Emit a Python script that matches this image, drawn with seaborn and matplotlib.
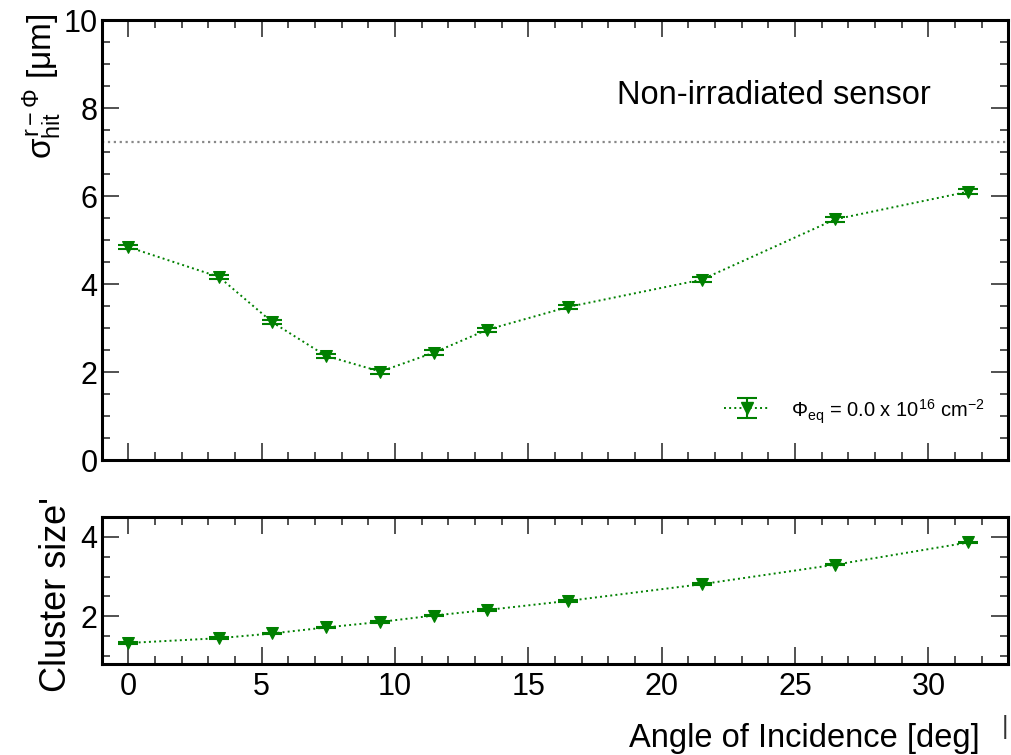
import numpy as np
import pandas as pd
import matplotlib
matplotlib.use("Agg")
import matplotlib.pyplot as plt
import seaborn as sns
from matplotlib.ticker import MultipleLocator
from matplotlib.lines import Line2D
from matplotlib.legend_handler import HandlerTuple

# ---- data ----
angle = [0.0, 3.4, 5.4, 7.4, 9.45, 11.45, 13.45, 16.5, 21.5, 26.5, 31.5]
resolution = [4.84, 4.16, 3.13, 2.37, 2.01, 2.44, 2.96, 3.48, 4.10, 5.47, 6.10]
resolution_err = [0.05, 0.05, 0.05, 0.05, 0.05, 0.05, 0.05, 0.05, 0.05, 0.05, 0.05]
cluster = [1.33, 1.45, 1.57, 1.72, 1.86, 2.02, 2.16, 2.39, 2.81, 3.30, 3.86]
cluster_err = [0.02, 0.02, 0.02, 0.02, 0.02, 0.02, 0.02, 0.02, 0.02, 0.02, 0.02]
reference_level = 7.23
legend_label = r'$\Phi_{\mathrm{eq}}$ = 0.0 x 10$^{16}$ cm$^{-2}$'
panel_text = "Non-irradiated sensor"

df = pd.DataFrame({"angle": angle, "res": resolution, "res_err": resolution_err,
                   "cl": cluster, "cl_err": cluster_err})

sns.set_theme(style="white")
plt.rcParams['font.family'] = ['Liberation Sans', 'DejaVu Sans']
plt.rcParams['mathtext.fontset'] = 'custom'
plt.rcParams['mathtext.rm'] = 'Liberation Sans'
plt.rcParams['mathtext.it'] = 'Liberation Sans'
plt.rcParams['mathtext.bf'] = 'Liberation Sans:bold'
plt.rcParams['mathtext.sf'] = 'Liberation Sans'
for k in ['text.color', 'axes.labelcolor', 'xtick.color', 'ytick.color']:
    plt.rcParams[k] = 'black'

green = '#008000'

fig = plt.figure(figsize=(10.12, 7.55), dpi=100)
ax1 = fig.add_axes([0.1005, 0.3907, 0.896, 0.5828])
ax2 = fig.add_axes([0.1005, 0.1205, 0.896, 0.1947])


def style_axes(ax):
    for s in ax.spines.values():
        s.set_linewidth(2.2)
        s.set_color('black')
    ax.xaxis.set_major_locator(MultipleLocator(5))
    ax.xaxis.set_minor_locator(MultipleLocator(1))
    ax.yaxis.set_major_locator(MultipleLocator(2))
    ax.yaxis.set_minor_locator(MultipleLocator(0.5))
    ax.tick_params(which='both', direction='in', top=True, right=True,
                   bottom=True, left=True, color='#222222', width=1.1,
                   labelcolor='black')
    ax.tick_params(which='major', length=12, labelsize=22)
    ax.tick_params(axis='x', which='major', pad=6)
    ax.tick_params(axis='y', which='major', pad=3)
    ax.tick_params(which='minor', length=6)
    ax.set_xlim(-1, 33)


def draw_series(ax, ycol, ecol):
    sns.lineplot(data=df, x="angle", y=ycol, ax=ax, color=green, linestyle=':',
                 linewidth=1.4, marker='v', markersize=9, markeredgecolor=green,
                 markerfacecolor=green, legend=False, zorder=3)
    err = ax.errorbar(df["angle"], df[ycol], yerr=df[ecol], fmt='none',
                      ecolor=green, elinewidth=1.5, capsize=7, capthick=1.5, zorder=4)
    return err


style_axes(ax1)
style_axes(ax2)

err1 = draw_series(ax1, "res", "res_err")
ax1.axhline(reference_level, color='#888888', linestyle=':', linewidth=1.6, zorder=1)
ax1.set_ylim(0, 10)
ax1.set_xlabel('')
ax1.set_ylabel('')
ax1.tick_params(labelbottom=False)
ax1.text(24.2, 8.29, panel_text, fontsize=23.5, ha='center', va='center')

fig.text(42 / 1012, 1 - 14 / 755, r'$\sigma^{r-\Phi}_{\mathrm{hit}}$ [$\mu$m]',
         fontsize=24, rotation=90, ha='center', va='top')

proxy = Line2D([], [], color=green, linestyle=':', linewidth=1.4, marker='v',
               markersize=9, markerfacecolor=green, markeredgecolor=green)
ax1.legend(handles=[(err1, proxy)], labels=[legend_label],
           handler_map={tuple: HandlerTuple(ndivide=1)},
           loc='lower right', bbox_to_anchor=(0.993, 0.035), frameon=False,
           fontsize=14.5, handlelength=2.3, handleheight=1.8, handletextpad=1.0)

draw_series(ax2, "cl", "cl_err")
ax2.set_ylim(0.8, 4.5)
ax2.set_ylabel('')
ax2.set_xlabel('')
fig.text(57 / 1012, 1 - 497 / 755, "Cluster size'", fontsize=26, rotation=90,
         ha='center', va='top')
fig.text(980 / 1012, 1 - 738 / 755, "Angle of Incidence [deg]", fontsize=23.5,
         ha='right', va='center')

fig.text(1005 / 1012, 1 - 727 / 755, '|', fontsize=18, color='#333333',
         ha='center', va='center')

fig.savefig("out.png", dpi=100)
